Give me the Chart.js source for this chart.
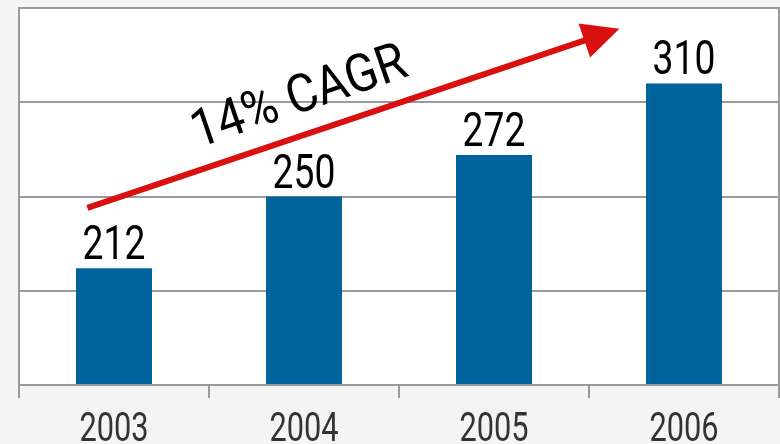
<!DOCTYPE html>
<html><head><meta charset="utf-8">
<script src="https://cdn.jsdelivr.net/npm/chart.js@4"></script>
<style>html,body{margin:0;padding:0;background:#f4f4f4;}#wrap{width:780px;height:444px;}</style>
</head><body><div id="wrap"><canvas id="c" width="780" height="444"></canvas></div>
<script>
const categories = ["2003", "2004", "2005", "2006"];
const revenue = [212, 250, 272, 310];
const yTicks = { min: 150, max: 350, step: 50 };
const arrowStart = { x: -0.14, y: 244 };
const arrowEnd = { x: 2.66, y: 339 };
const arrowLabel = { text: "14% CAGR", x: 1.0, y: 295 };

const FONT = "Roboto, 'Liberation Sans', sans-serif";

function squishText(ctx, text, x, y, sx) {
  ctx.save();
  ctx.translate(x, y);
  ctx.scale(sx, 1);
  ctx.fillText(text, 0, 0);
  ctx.restore();
}

const framePlugin = {
  id: 'frame',
  beforeDraw(chart) {
    const {ctx, chartArea: a} = chart;
    ctx.save();
    ctx.fillStyle = '#ffffff';
    ctx.fillRect(a.left, a.top, a.right - a.left, a.bottom - a.top);
    ctx.restore();
  },
  afterDatasetsDraw(chart) {
    const {ctx, chartArea: a} = chart;
    ctx.save();
    ctx.strokeStyle = '#9a9a9a';
    ctx.lineWidth = 2;
    ctx.strokeRect(a.left, a.top, a.right - a.left, a.bottom - a.top);
    ctx.restore();
  }
};

const labelPlugin = {
  id: 'labels',
  afterDraw(chart) {
    const {ctx, scales: {x}} = chart;
    const meta = chart.getDatasetMeta(0);
    ctx.save();
    ctx.textAlign = 'center';
    ctx.textBaseline = 'alphabetic';
    ctx.fillStyle = '#000';
    ctx.font = "49px " + FONT;
    meta.data.forEach((bar, i) => {
      squishText(ctx, String(revenue[i]), bar.x, bar.y - 9, 0.76);
    });
    ctx.fillStyle = '#333333';
    ctx.font = "41px " + FONT;
    categories.forEach((c, i) => {
      squishText(ctx, c, x.getPixelForTick(i), x.bottom - 3, 0.75);
    });
    ctx.restore();
  }
};

const arrowPlugin = {
  id: 'arrow',
  afterDatasetsDraw(chart) {
    const {ctx, scales: {x, y}} = chart;
    const x0 = x.getPixelForValue(arrowStart.x), y0 = y.getPixelForValue(arrowStart.y);
    const x1 = x.getPixelForValue(arrowEnd.x), y1 = y.getPixelForValue(arrowEnd.y);
    const ang = Math.atan2(y1 - y0, x1 - x0);
    const headLen = 37, headHalf = 18;
    const bx = x1 - headLen * Math.cos(ang), by = y1 - headLen * Math.sin(ang);
    ctx.save();
    ctx.strokeStyle = '#d81010';
    ctx.fillStyle = '#d81010';
    ctx.lineWidth = 6;
    ctx.beginPath();
    ctx.moveTo(x0, y0);
    ctx.lineTo(bx + 2 * Math.cos(ang), by + 2 * Math.sin(ang));
    ctx.stroke();
    ctx.beginPath();
    ctx.moveTo(x1, y1);
    ctx.lineTo(bx + headHalf * Math.sin(ang), by - headHalf * Math.cos(ang));
    ctx.lineTo(bx - headHalf * Math.sin(ang), by + headHalf * Math.cos(ang));
    ctx.closePath();
    ctx.fill();
    const tx = x.getPixelForValue(arrowLabel.x), ty = y.getPixelForValue(arrowLabel.y);
    ctx.translate(tx, ty);
    ctx.rotate(ang - 0.005);
    ctx.scale(0.9, 1);
    ctx.fillStyle = '#000';
    ctx.font = "53px " + FONT;
    ctx.textAlign = 'center';
    ctx.textBaseline = 'alphabetic';
    ctx.fillText(arrowLabel.text, 0, 0);
    ctx.restore();
  }
};

new Chart(document.getElementById('c'), {
  type: 'bar',
  data: {
    labels: categories,
    datasets: [{
      data: revenue,
      backgroundColor: '#00649c',
      barPercentage: 0.8,
      categoryPercentage: 0.5
    }]
  },
  options: {
    responsive: false,
    animation: false,
    layout: { padding: { left: 19, right: 1, top: 8, bottom: 0 } },
    plugins: { legend: { display: false }, tooltip: { enabled: false } },
    scales: {
      x: {
        offset: true,
        grid: { offset: true, drawOnChartArea: false, drawTicks: true, tickLength: 13, color: '#9a9a9a', lineWidth: 2 },
        border: { display: true, color: '#9a9a9a', width: 2 },
        ticks: { color: 'rgba(0,0,0,0)', font: { family: FONT, size: 40 }, padding: 2 },
        afterFit(s) { s.height = 59; }
      },
      y: {
        min: yTicks.min, max: yTicks.max,
        ticks: { display: false, stepSize: yTicks.step },
        grid: { drawTicks: false, color: '#9a9a9a', lineWidth: 2 },
        border: { display: false },
        afterFit(s) { s.width = 0; }
      }
    }
  },
  plugins: [framePlugin, labelPlugin, arrowPlugin]
});
</script>
</body></html>
